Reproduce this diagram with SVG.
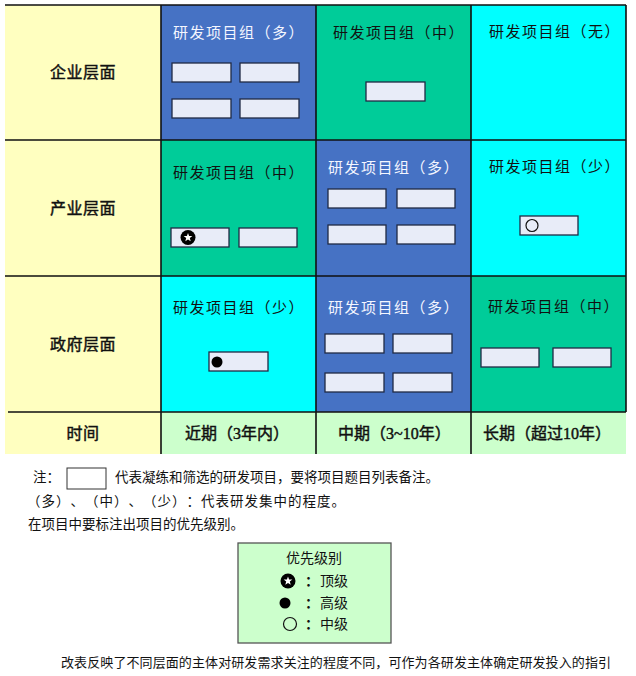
<svg xmlns="http://www.w3.org/2000/svg" width="636" height="676" viewBox="0 0 636 676">
<style>
text{font-family:"Liberation Serif","Noto Sans CJK SC",serif;fill:#111;text-spacing-trim:space-all}
.t{font-size:15px;letter-spacing:1.5px}
.w{fill:#f4f6ff}
.lab{font-size:16px;text-anchor:middle;letter-spacing:0.5px;stroke:#111;stroke-width:0.45}
.tm{font-size:16px;stroke:#111;stroke-width:0.45}
.n{font-size:13.5px}
.lg{font-size:14px}
.box{fill:#e8ecf8;stroke:#1f2a44;stroke-width:1.3}
.grid{stroke:#111;stroke-width:1.6;fill:none}
</style>
<defs>
<g id="star"><circle r="7.5" fill="#000"/><path d="M0,-4.6 L1.12,-1.54 L4.37,-1.42 L1.81,0.59 L2.7,3.72 L0,1.9 L-2.7,3.72 L-1.81,0.59 L-4.37,-1.42 L-1.12,-1.54 Z" fill="#fff"/></g>
</defs>
<rect width="636" height="676" fill="#fff"/>
<g id="rowlabels">
<rect x="5" y="5" width="156" height="449" fill="#ffffc0"/>
<text class="lab" x="83" y="78">企业层面</text>
<text class="lab" x="83" y="214">产业层面</text>
<text class="lab" x="83" y="350">政府层面</text>
<text class="lab" x="83" y="439">时间</text>
</g>
<g id="r1c2">
<rect x="161" y="5" width="155" height="135" fill="#4672c4"/>
<text class="t w" x="173" y="38">研发项目组（多）</text>
<rect class="box" x="172" y="63" width="59" height="19"/>
<rect class="box" x="240" y="63" width="59" height="19"/>
<rect class="box" x="172" y="99" width="59" height="19"/>
<rect class="box" x="240" y="99" width="59" height="19"/>
</g>
<g id="r1c3">
<rect x="316" y="5" width="155" height="135" fill="#00cc99"/>
<text class="t" x="333" y="38">研发项目组（中）</text>
<rect class="box" x="366" y="82" width="59" height="19"/>
</g>
<g id="r1c4">
<rect x="471" y="5" width="155" height="135" fill="#00ffff"/>
<text class="t" x="489" y="37">研发项目组（无）</text>
</g>
<g id="r2c2">
<rect x="161" y="140" width="155" height="136" fill="#00cc99"/>
<text class="t" x="173" y="178">研发项目组（中）</text>
<rect class="box" x="171" y="228" width="58" height="19"/>
<rect class="box" x="239" y="228" width="58" height="19"/>
<use href="#star" x="188" y="237.5"/>
</g>
<g id="r2c3">
<rect x="316" y="140" width="155" height="136" fill="#4672c4"/>
<text class="t w" x="328" y="173">研发项目组（多）</text>
<rect class="box" x="328" y="189" width="58" height="19"/>
<rect class="box" x="397" y="189" width="58" height="19"/>
<rect class="box" x="328" y="225" width="58" height="19"/>
<rect class="box" x="397" y="225" width="58" height="19"/>
</g>
<g id="r2c4">
<rect x="471" y="140" width="155" height="136" fill="#00ffff"/>
<text class="t" x="489" y="172">研发项目组（少）</text>
<rect class="box" x="520" y="216" width="58" height="19"/>
<circle cx="532" cy="225.5" r="6" fill="none" stroke="#111" stroke-width="1.2"/>
</g>
<g id="r3c2">
<rect x="161" y="276" width="155" height="136" fill="#00ffff"/>
<text class="t" x="173" y="313">研发项目组（少）</text>
<rect class="box" x="209" y="352" width="59" height="19"/>
<circle cx="217" cy="362" r="5.5" fill="#000"/>
</g>
<g id="r3c3">
<rect x="316" y="276" width="155" height="136" fill="#4672c4"/>
<text class="t w" x="328" y="313">研发项目组（多）</text>
<rect class="box" x="325" y="334" width="59" height="19"/>
<rect class="box" x="393" y="334" width="59" height="19"/>
<rect class="box" x="325" y="373" width="59" height="19"/>
<rect class="box" x="393" y="373" width="59" height="19"/>
</g>
<g id="r3c4">
<rect x="471" y="276" width="155" height="136" fill="#00cc99"/>
<text class="t" x="488" y="312">研发项目组（中）</text>
<rect class="box" x="481" y="348" width="58" height="19"/>
<rect class="box" x="553" y="348" width="58" height="19"/>
</g>
<g id="timerow">
<rect x="161" y="412" width="465" height="42" fill="#ccffcc"/>
<text class="tm" x="185" y="439">近期（3年内）</text>
<text class="tm" x="338" y="439">中期（3~10年）</text>
<text class="tm" x="483" y="439">长期（超过10年）</text>
</g>
<g id="connectors">
<path class="grid" d="M5,5 H626 M5,140 H626 M5,276 H626 M8,412 H626 M161,5 V454 M316,5 V454 M471,5 V454 M626,5 V412"/>
</g>
<g id="notes">
<text class="n" x="33" y="482">注：</text>
<rect x="67" y="468" width="39" height="21" fill="#fff" stroke="#333" stroke-width="1"/>
<text class="n" x="115" y="482">代表凝练和筛选的研发项目，要将项目题目列表备注。</text>
<text class="n" x="27" y="506" textLength="318">（多）、（中）、（少）：代表研发集中的程度。</text>
<text class="n" x="28" y="529">在项目中要标注出项目的优先级别。</text>
</g>
<g id="legend">
<rect x="238" y="543" width="153" height="100" fill="#ccffcc" stroke="#555" stroke-width="1.3"/>
<text class="lg" x="314" y="563" text-anchor="middle">优先级别</text>
<use href="#star" x="288" y="581"/>
<text class="lg" x="305" y="586" font-weight="bold">：</text>
<text class="lg" x="320" y="586">顶级</text>
<circle cx="285" cy="603" r="5.5" fill="#000"/>
<text class="lg" x="305" y="608" font-weight="bold">：</text>
<text class="lg" x="320" y="608">高级</text>
<circle cx="290" cy="624" r="6.5" fill="none" stroke="#111" stroke-width="1.2"/>
<text class="lg" x="305" y="629" font-weight="bold">：</text>
<text class="lg" x="320" y="629">中级</text>
</g>
<g id="caption">
<text x="61" y="667" font-size="13" textLength="550">改表反映了不同层面的主体对研发需求关注的程度不同，可作为各研发主体确定研发投入的指引</text>
</g>
</svg>
